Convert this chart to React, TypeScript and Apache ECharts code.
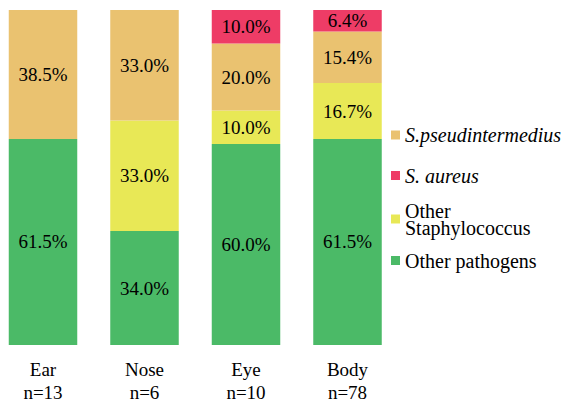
import React, { useEffect, useRef } from "react";
import * as echarts from "echarts";

const categories = ["Ear\nn=13", "Nose\nn=6", "Eye\nn=10", "Body\nn=78"];
const otherPathogens = [61.5, 34.0, 60.0, 61.5];
const otherStaph = [null, 33.0, 10.0, 16.7];
const sPseud = [38.5, 33.0, 20.0, 15.4];
const sAureus = [null, null, 10.0, 6.4];

const names = {
  pseud: "S.pseudintermedius",
  aureus: "S. aureus",
  staph: "Other\nStaphylococcus",
  other: "Other pathogens",
};

const colors = {
  pseud: "#EAC270",
  aureus: "#EE3C66",
  staph: "#E8E856",
  other: "#4BBA67",
};

const FONT = "Liberation Serif, Times New Roman, serif";

export default function App() {
  const ref = useRef<HTMLDivElement>(null);
  useEffect(() => {
    document.body.style.margin = "0";
    if (!ref.current) return;
    const chart = echarts.init(ref.current, null, { renderer: "svg" });
    const label = {
      show: true,
      position: "inside",
      color: "#000",
      fontFamily: FONT,
      fontSize: 19,
      formatter: (p: any) => `${Number(p.value).toFixed(1)}%`,
    };
    const mk = (key: string, data: (number | null)[]) => ({
      name: (names as any)[key],
      type: "bar",
      stack: "total",
      barWidth: 68.5,
      clip: false,
      data: data.map((v) => (v == null ? "-" : v)),
      itemStyle: { color: (colors as any)[key] },
      label,
    });
    const legendItem = (key: string, top: number, italic: boolean, lh: number) => ({
      orient: "vertical",
      left: 391,
      top,
      padding: 0,
      itemWidth: 9,
      itemHeight: 9,
      icon: "rect",
      data: [(names as any)[key]],
      textStyle: {
        fontFamily: FONT,
        fontSize: 20,
        fontStyle: italic ? "italic" : "normal",
        color: "#000",
        lineHeight: lh,
      },
    });
    chart.setOption({
      animation: false,
      textStyle: { fontFamily: FONT },
      grid: { left: 43, top: 10, width: 304.5, height: 335 },
      xAxis: {
        type: "category",
        data: categories,
        boundaryGap: false,
        axisLine: { show: false },
        axisTick: { show: false },
        axisLabel: {
          fontFamily: FONT,
          fontSize: 19,
          color: "#000",
          lineHeight: 23,
          margin: 13,
        },
      },
      yAxis: { type: "value", min: 0, max: 100, show: false },
      legend: [
        legendItem("pseud", 135 - 10, true, 20),
        legendItem("aureus", 175.5 - 10, true, 20),
        legendItem("staph", 217.5 - 17, false, 17),
        legendItem("other", 260.5 - 10, false, 20),
      ],
      series: [
        mk("other", otherPathogens),
        mk("staph", otherStaph),
        mk("pseud", sPseud),
        mk("aureus", sAureus),
      ],
    });
    return () => chart.dispose();
  }, []);
  return <div ref={ref} style={{ width: 565, height: 405 }} />;
}
